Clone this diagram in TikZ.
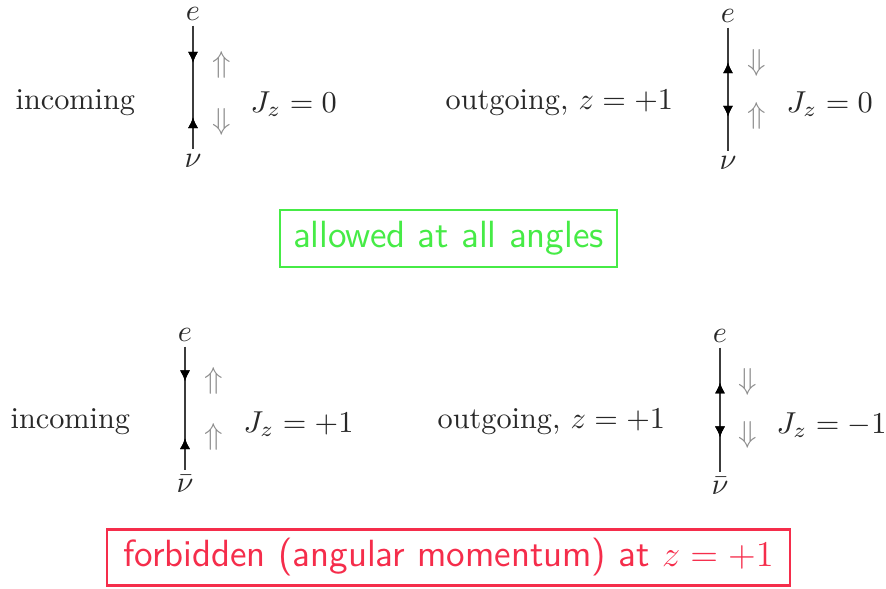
\documentclass[tikz,border=0pt]{standalone}
\usetikzlibrary{arrows.meta,decorations.markings}
\definecolor{linegray}{RGB}{60,60,60}
\definecolor{spingray}{RGB}{140,140,140}
\definecolor{txt}{RGB}{40,40,40}
\definecolor{okgreen}{RGB}{70,235,70}
\definecolor{badred}{RGB}{245,45,75}
\tikzset{
  lbl/.style={inner sep=0pt, text=txt, font=\fontsize{10}{12}\selectfont},
  part/.style={inner sep=1.5pt, text=txt, font=\fontsize{10}{12}\selectfont},
  spin/.style={inner sep=0pt, text=spingray, font=\fontsize{10}{12}\selectfont},
  ferm/.style={draw=linegray, line width=0.9pt},
  dn/.style={postaction={decorate}, decoration={markings, mark=at position #1 with {\arrow[black]{Latex[length=3.6pt,width=3.4pt]}}}},
  up/.style={postaction={decorate}, decoration={markings, mark=at position #1 with {\arrowreversed[black]{Latex[length=3.6pt,width=3.4pt]}}}},
  verdict/.style={draw, line width=0.7pt, inner xsep=3pt, inner ysep=3pt, font=\sffamily\fontsize{12.5}{15}\selectfont}
}
\begin{document}
\begin{tikzpicture}[x=0.33pt,y=-0.33pt]
\useasboundingbox (0,0) rectangle (886,589);
% ---------- top row ----------
\node[lbl, anchor=west] (in1) at (15,103) {incoming};
\node[part] (e1) at (193,14) {$e$};
\node[part] (n1) at (193,161) {$\nu$};
\draw[ferm, dn=0.3, up=0.74] (e1) -- (n1);
\node[spin] (s1a) at (222,65) {$\Uparrow$};
\node[spin] (s1b) at (222,122) {$\Downarrow$};
\node[lbl, anchor=west] (j1) at (250,104) {$J_z=0$};

\node[lbl, anchor=west] (out1) at (445,103) {outgoing, $z=+1$};
\node[part] (e2) at (728,16) {$e$};
\node[part] (n2) at (728,163) {$\nu$};
\draw[ferm, up=0.28, dn=0.72] (e2) -- (n2);
\node[spin] (s2a) at (757,63) {$\Downarrow$};
\node[spin] (s2b) at (757,116) {$\Uparrow$};
\node[lbl, anchor=west] (j2) at (786,104) {$J_z=0$};

\node[verdict, draw=okgreen, text=okgreen, minimum width=337*0.33pt, minimum height=57*0.33pt] (ok) at (448.5,238.5) {allowed at all angles};

% ---------- bottom row ----------
\node[lbl, anchor=west] (in2) at (10,422) {incoming};
\node[part] (e3) at (185,335) {$e$};
\node[part] (n3) at (185,484) {$\bar\nu$};
\draw[ferm, dn=0.28, up=0.74] (e3) -- (n3);
\node[spin] (s3a) at (214,381) {$\Uparrow$};
\node[spin] (s3b) at (214,437) {$\Uparrow$};
\node[lbl, anchor=west] (j3) at (243,424) {$J_z=+1$};

\node[lbl, anchor=west] (out2) at (437,422) {outgoing, $z=+1$};
\node[part] (e4) at (720,336) {$e$};
\node[part] (n4) at (720,486) {$\bar\nu$};
\draw[ferm, up=0.28, dn=0.72] (e4) -- (n4);
\node[spin] (s4a) at (748,382) {$\Downarrow$};
\node[spin] (s4b) at (748,435) {$\Downarrow$};
\node[lbl, anchor=west] (j4) at (776,425) {$J_z=-1$};

\node[verdict, draw=badred, text=badred, minimum width=683*0.33pt, minimum height=55*0.33pt] (bad) at (448.5,557.5) {forbidden (angular momentum) at $z=+1$};
\end{tikzpicture}
\end{document}
